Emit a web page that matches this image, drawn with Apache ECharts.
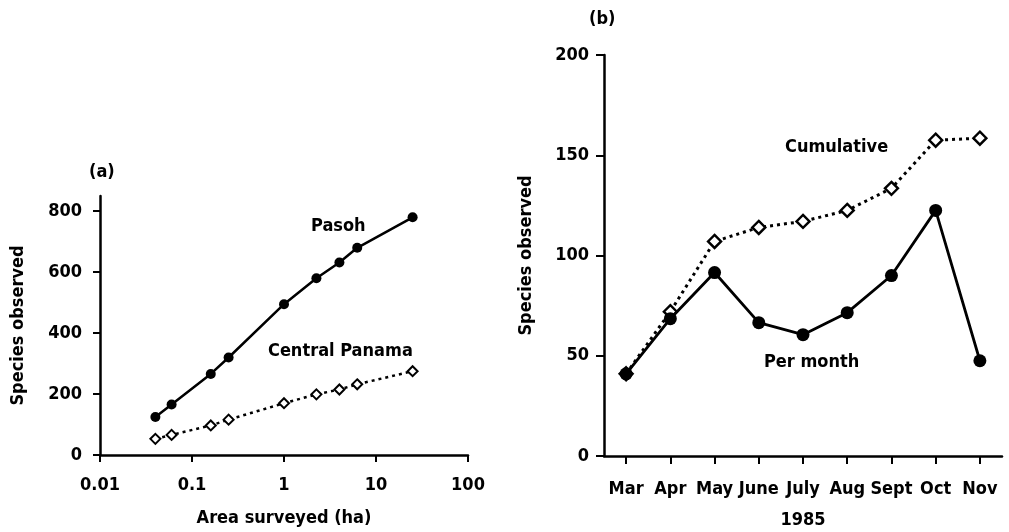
<!DOCTYPE html>
<html>
<head>
<meta charset="utf-8">
<script src="https://cdn.jsdelivr.net/npm/echarts@6/dist/echarts.min.js"></script>
<style>
  html, body { margin: 0; padding: 0; background: #ffffff; }
  #chart { width: 1009px; height: 532px; }
</style>
</head>
<body>
<div id="chart"></div>
<script>
// panel (a): species-area
const areaHa = [0.04, 0.06, 0.16, 0.25, 1, 2.25, 4, 6.25, 25];
const pasoh = [125, 166, 266, 320, 495, 580, 632, 680, 780];
const panama = [53, 66, 97, 116, 170, 199, 215, 232, 275];
const speciesTicksA = [0, 200, 400, 600, 800];

// panel (b): monthly counts, 1985
const months = ['Mar', 'Apr', 'May', 'June', 'July', 'Aug', 'Sept', 'Oct', 'Nov'];
const cumulative = [41, 72, 107, 114, 117, 122.5, 133.5, 157.5, 158.5];
const perMonth = [41, 68.5, 91.5, 66.5, 60.5, 71.5, 90, 122.5, 47.5];

const FONT = '"DejaVu Sans Condensed", "DejaVu Sans"';
const txt = { color: '#000', fontFamily: FONT, fontWeight: 'bold', fontSize: 18 };
const axisLine = { show: true, lineStyle: { color: '#000', width: 2.5 } };
const labelFont = 'bold 18px "DejaVu Sans Condensed", "DejaVu Sans"';

let chart = echarts.init(document.getElementById('chart'), null, { renderer: 'canvas' });
chart.setOption({
  backgroundColor: '#ffffff',
  animation: false,
  title: [
    { text: '(a)', left: 84, top: 158, textStyle: txt },
    { text: '(b)', left: 584, top: 5, textStyle: txt }
  ],
  grid: [
    { left: 100, right: 541, top: 196, bottom: 77, outerBoundsMode: 'none' },
    { left: 604, right: 7, top: 55, bottom: 76, outerBoundsMode: 'none' }
  ],
  xAxis: [
    {
      type: 'log',
      gridIndex: 0,
      logBase: 10,
      min: 0.01,
      max: 100,
      name: 'Area surveyed (ha)',
      nameLocation: 'middle',
      nameGap: 54,
      nameTextStyle: txt,
      axisLine: axisLine,
      axisTick: { show: true, length: 7, lineStyle: { color: '#000', width: 2 } },
      minorTick: { show: false },
      splitLine: { show: false },
      axisLabel: Object.assign({ margin: 21 }, txt)
    },
    {
      type: 'category',
      gridIndex: 1,
      data: months,
      boundaryGap: true,
      name: '1985',
      nameLocation: 'middle',
      nameGap: 55,
      nameTextStyle: txt,
      axisLine: axisLine,
      axisTick: { show: true, alignWithLabel: true, length: 8, lineStyle: { color: '#000', width: 2 } },
      splitLine: { show: false },
      axisLabel: Object.assign({ margin: 24, interval: 0 }, txt)
    }
  ],
  yAxis: [
    {
      type: 'value',
      gridIndex: 0,
      min: 0,
      max: 850,
      interval: 200,
      name: 'Species observed',
      nameLocation: 'middle',
      nameRotate: 90,
      nameGap: 73,
      nameTextStyle: txt,
      axisLine: axisLine,
      axisTick: { show: true, length: 7, customValues: speciesTicksA, lineStyle: { color: '#000', width: 2 } },
      splitLine: { show: false },
      axisLabel: Object.assign({ margin: 18, customValues: speciesTicksA }, txt)
    },
    {
      type: 'value',
      gridIndex: 1,
      min: 0,
      max: 200,
      interval: 50,
      name: 'Species observed',
      nameLocation: 'middle',
      nameRotate: 90,
      nameGap: 69,
      nameTextStyle: txt,
      axisLine: axisLine,
      axisTick: { show: true, length: 8, lineStyle: { color: '#000', width: 2 } },
      splitLine: { show: false },
      axisLabel: Object.assign({ margin: 15 }, txt)
    }
  ],
  series: [
    {
      name: 'Central Panama',
      type: 'line',
      xAxisIndex: 0,
      yAxisIndex: 0,
      data: areaHa.map((a, i) => [a, panama[i]]),
      symbol: 'diamond',
      symbolSize: 10,
      showAllSymbol: true,
      lineStyle: { color: '#000', width: 2.5, type: [3, 4] },
      itemStyle: { color: '#fff', borderColor: '#000', borderWidth: 2 },
      z: 3
    },
    {
      name: 'Pasoh',
      type: 'line',
      xAxisIndex: 0,
      yAxisIndex: 0,
      data: areaHa.map((a, i) => [a, pasoh[i]]),
      symbol: 'circle',
      symbolSize: 10,
      showAllSymbol: true,
      lineStyle: { color: '#000', width: 2.5 },
      itemStyle: { color: '#000', borderColor: '#000', borderWidth: 0 },
      z: 4
    },
    {
      name: 'Cumulative',
      type: 'line',
      xAxisIndex: 1,
      yAxisIndex: 1,
      data: cumulative,
      symbol: 'diamond',
      symbolSize: 13,
      showAllSymbol: true,
      lineStyle: { color: '#000', width: 3, type: [3, 4] },
      itemStyle: { color: '#fff', borderColor: '#000', borderWidth: 2.4 },
      z: 3
    },
    {
      name: 'Per month',
      type: 'line',
      xAxisIndex: 1,
      yAxisIndex: 1,
      data: perMonth,
      symbol: 'circle',
      symbolSize: 13,
      showAllSymbol: true,
      lineStyle: { color: '#000', width: 2.8 },
      itemStyle: { color: '#000', borderColor: '#000', borderWidth: 0 },
      z: 4
    }
  ],
  graphic: [
    { type: 'text', left: 311, top: 217, style: { text: 'Pasoh', fill: '#000', font: labelFont } },
    { type: 'text', left: 268, top: 342, style: { text: 'Central Panama', fill: '#000', font: labelFont } },
    { type: 'text', left: 785, top: 138, style: { text: 'Cumulative', fill: '#000', font: labelFont } },
    { type: 'text', left: 764, top: 353, style: { text: 'Per month', fill: '#000', font: labelFont } }
  ]
});
</script>
</body>
</html>
